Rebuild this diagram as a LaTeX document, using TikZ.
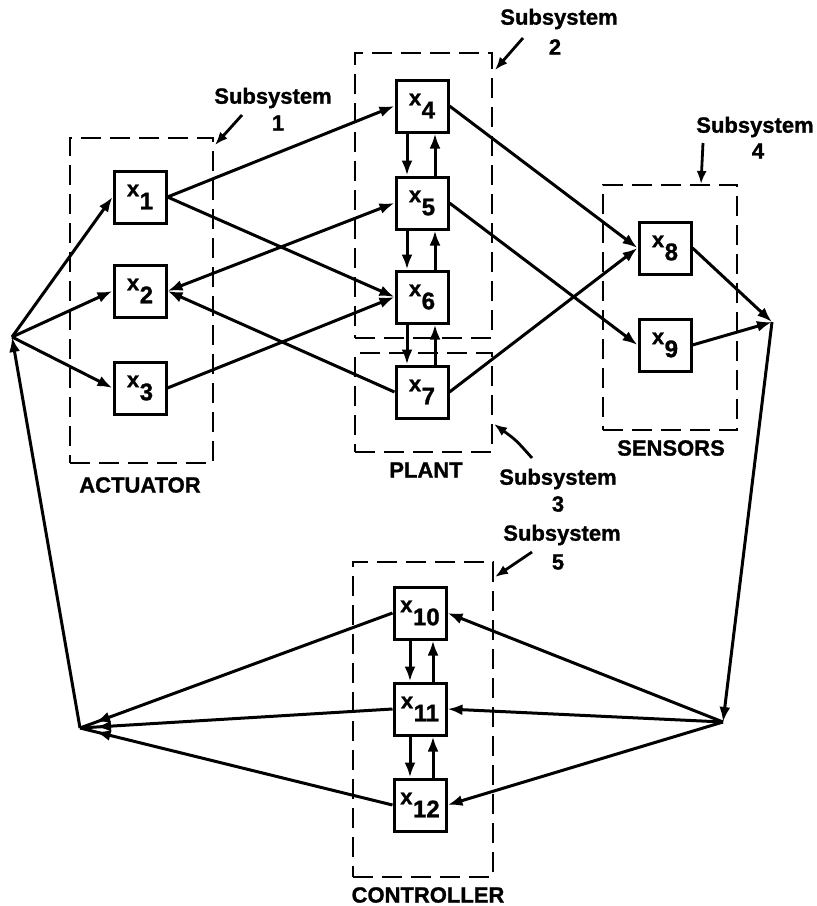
\documentclass[tikz,border=0pt]{standalone}
\usepackage{fontspec}
\setmainfont{Liberation Sans}[BoldFeatures={FakeBold=1.2}]
\usetikzlibrary{arrows.meta,decorations.markings,calc}
\newcommand{\xl}[1]{x\hspace{0.5pt}\raisebox{-13pt}{\fontsize{24}{24}\selectfont #1}}
\begin{document}
\begin{tikzpicture}[x=1pt,y=-1pt,
  every node/.style={font=\bfseries\fontsize{22}{24}\selectfont},
  xbox/.style={draw,line width=3pt,minimum width=52pt,minimum height=52pt,inner sep=0pt},
  sub/.style={draw,line width=2.8pt,dash pattern=on 20pt off 9pt,inner sep=0pt},
  conn/.style={line width=3pt},
  arr/.style={conn,-{Latex[length=15pt,width=11pt]}},
  darr/.style={conn,{Latex[length=15pt,width=11pt]}-{Latex[length=15pt,width=11pt]}},
  tipbefore/.style={conn,postaction={decorate},decoration={markings,mark=at position -16pt with {\arrow{Latex[length=15pt,width=11pt]}}}},
  lbl/.style={inner sep=0pt},
  larr/.style={line width=2.8pt,-{Latex[length=13pt,width=10pt]}}
]
\useasboundingbox (0,0) rectangle (817,906);

% subsystem boxes
\node[sub,minimum width=143pt,minimum height=325pt] (act) at (141.5,300.5) {};
\node[sub,minimum width=137pt,minimum height=285pt] (sub2) at (423.5,195.5) {};
\node[sub,minimum width=137pt,minimum height=99pt] (sub3) at (423.5,402.5) {};
\node[sub,minimum width=134pt,minimum height=245pt] (sens) at (670,307.5) {};
\node[sub,minimum width=140pt,minimum height=315pt] (ctrl) at (423,719.5) {};

% state boxes
\node[xbox] (x1) at (140,197) {\xl{1}};
\node[xbox] (x2) at (140,291) {\xl{2}};
\node[xbox] (x3) at (140,388) {\xl{3}};
\node[xbox] (x4) at (422,106) {\xl{4}};
\node[xbox] (x5) at (422,203) {\xl{5}};
\node[xbox] (x6) at (422,297) {\xl{6}};
\node[xbox] (x7) at (422,392) {\xl{7}};
\node[xbox] (x8) at (665,248) {\xl{8}};
\node[xbox] (x9) at (665,345) {\xl{9}};
\node[xbox] (x10) at (420,613) {\xl{10}};
\node[xbox] (x11) at (420,709) {\xl{11}};
\node[xbox] (x12) at (420,805) {\xl{12}};

% junctions
\coordinate (J1) at (12,337);
\coordinate (J2) at (80,728);
\coordinate (J3) at (772,322);
\coordinate (J4) at (723,722);

% labels
\node[lbl] (lact) at (140,485) {ACTUATOR};
\node[lbl] (lplant) at (426,470) {PLANT};
\node[lbl] (lsens) at (671,448) {SENSORS};
\node[lbl] (lctrl) at (428,895) {CONTROLLER};

\node[lbl] (s1) at (273,98) {Subsystem};
\node[lbl] (s1n) at (278,123) {1};
\node[lbl] (s2) at (559,19) {Subsystem};
\node[lbl] (s2n) at (555,47) {2};
\node[lbl] (s3) at (558,479) {Subsystem};
\node[lbl] (s3n) at (558,504) {3};
\node[lbl] (s4) at (755,127) {Subsystem};
\node[lbl] (s4n) at (758,151) {4};
\node[lbl] (s5) at (562,535) {Subsystem};
\node[lbl] (s5n) at (558,562) {5};

% label pointers
\coordinate (p1a) at (242,115); \coordinate (p1b) at (215,145);
\coordinate (p2a) at (523,38);  \coordinate (p2b) at (495,70);
\coordinate (p3a) at (532,458); \coordinate (p3c) at (516,440); \coordinate (p3b) at (494,424);
\coordinate (p4a) at (703,143); \coordinate (p4b) at (701,184);
\coordinate (p5a) at (532,552); \coordinate (p5b) at (495,577);
\draw[larr] (p1a) -- (p1b);
\draw[larr] (p2a) -- (p2b);
\draw[larr] (p3a) .. controls (p3c) .. (p3b);
\draw[larr] (p4a) -- (p4b);
\draw[larr] (p5a) -- (p5b);

% inputs to actuator
\draw[arr] (J1) -- (x1.west);
\draw[arr] (J1) -- (x2.west);
\draw[arr] (J1) -- (x3.west);

% actuator <-> plant
\draw[arr] (x1.east) -- (x4.west);
\draw[arr] (x1.east) -- (x6.west);
\draw[darr] (x2.east) -- (x5.west);
\draw[arr] (x7.west) -- (x2.east);
\draw[arr] (x3.east) -- (x6.west);

% plant internal
\foreach \a/\b in {x4/x5,x5/x6,x6/x7}{
  \draw[arr] ([xshift=-15pt]\a.south) -- ([xshift=-15pt]\b.north);
  \draw[arr] ([xshift=13pt]\b.north) -- ([xshift=13pt]\a.south);
}

% plant -> sensors
\draw[arr] (x4.east) -- (x8.west);
\draw[arr] (x5.east) -- (x9.west);
\draw[arr] (x7.east) -- (x8.west);

% sensors -> junction
\draw[arr] (x8.east) -- (J3);
\draw[arr] (x9.east) -- (J3);
\draw[arr] (J3) -- (J4);

% junction -> controller
\draw[arr] (J4) -- (x10.east);
\draw[arr] (J4) -- (x11.east);
\draw[arr] (J4) -- (x12.east);

% controller internal
\foreach \a/\b in {x10/x11,x11/x12}{
  \draw[arr] ([xshift=-10pt]\a.south) -- ([xshift=-10pt]\b.north);
  \draw[arr] ([xshift=13pt]\b.north) -- ([xshift=13pt]\a.south);
}

% controller -> actuator junction
\draw[tipbefore] (x10.west) -- (J2);
\draw[tipbefore] (x11.west) -- (J2);
\draw[tipbefore] (x12.west) -- (J2);
\draw[arr] (J2) -- (J1);
\end{tikzpicture}
\end{document}
